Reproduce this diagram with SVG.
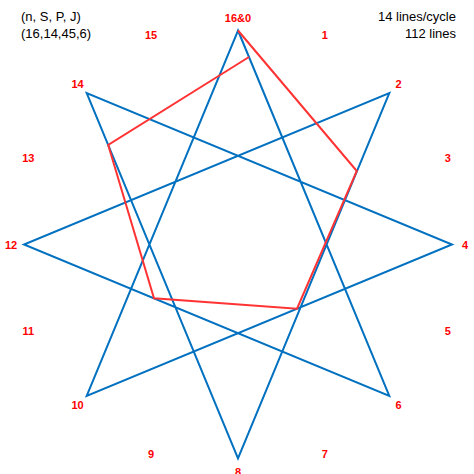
<svg xmlns="http://www.w3.org/2000/svg" width="474" height="474" viewBox="0 0 474 474">
<style>
.lbl{font-family:"Liberation Sans",Arial,sans-serif;font-size:11px;font-weight:bold;fill:#FF0000;text-anchor:middle}
.info{font-family:"Liberation Sans",Arial,sans-serif;font-size:13px;fill:#000}
.blue{fill:none;stroke:#0070C0;stroke-width:2;stroke-linejoin:miter}
.red{fill:none;stroke:#FF3333;stroke-width:2;stroke-linejoin:miter}
</style>
<rect width="474" height="474" fill="#fff"/>
<g id="info">
<text class="info" x="21" y="21">(n, S, P, J)</text>
<text class="info" x="21" y="38">(16,14,45,6)</text>
<text class="info" x="456" y="21" text-anchor="end">14 lines/cycle</text>
<text class="info" x="456" y="38" text-anchor="end">112 lines</text>
</g>
<g id="connectors">
<polygon class="blue" points="238,30.5 389.3,395.8 24,244.5 389.3,93.2 238,458.5 86.7,93.2 452,244.5 86.7,395.8"/>
<polyline class="red" points="238,30.5 356.8,171 297,308.7 154,298.3 108.2,145 249,57"/>
</g>
<g id="n0"><text class="lbl" x="238" y="22">16&amp;0</text></g>
<g id="n1"><text class="lbl" x="324.9" y="38.8">1</text></g>
<g id="n2"><text class="lbl" x="398.5" y="88">2</text></g>
<g id="n3"><text class="lbl" x="447.7" y="161.6">3</text></g>
<g id="n4"><text class="lbl" x="465" y="248.5">4</text></g>
<g id="n5"><text class="lbl" x="447.7" y="335.4">5</text></g>
<g id="n6"><text class="lbl" x="398.5" y="409">6</text></g>
<g id="n7"><text class="lbl" x="324.9" y="458.2">7</text></g>
<g id="n8"><text class="lbl" x="238" y="475.5">8</text></g>
<g id="n9"><text class="lbl" x="151.1" y="458.2">9</text></g>
<g id="n10"><text class="lbl" x="77.5" y="409">10</text></g>
<g id="n11"><text class="lbl" x="28.3" y="335.4">11</text></g>
<g id="n12"><text class="lbl" x="11" y="248.5">12</text></g>
<g id="n13"><text class="lbl" x="28.3" y="161.6">13</text></g>
<g id="n14"><text class="lbl" x="77.5" y="88">14</text></g>
<g id="n15"><text class="lbl" x="151.1" y="38.8">15</text></g>
</svg>
